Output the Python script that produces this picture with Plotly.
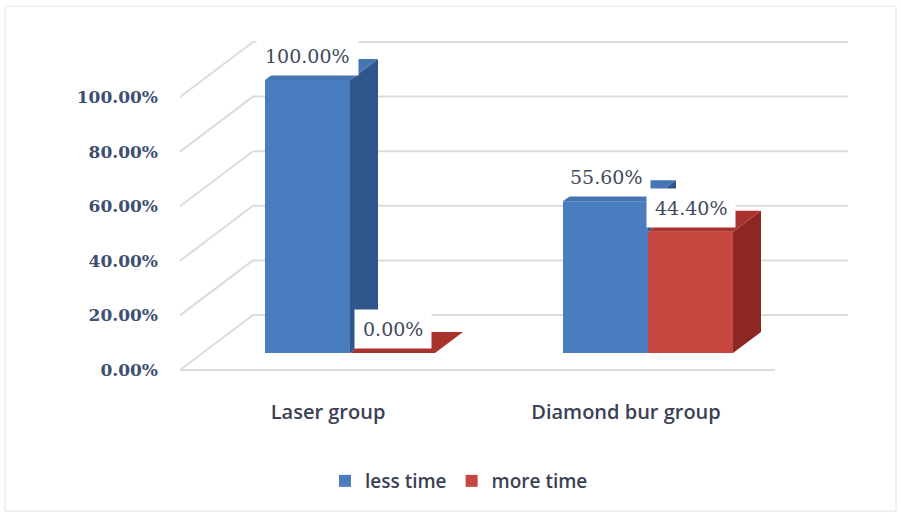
import plotly.graph_objects as go

# ---------------- data ----------------
categories = ["Laser group", "Diamond bur group"]
series_names = ["less time", "more time"]
less_time = [100.00, 55.60]
more_time = [0.00, 44.40]
y_ticks = [0, 20, 40, 60, 80, 100]

# ---------------- styling / geometry constants ----------------
W, H = 901, 515
M_LEFT = 162
PX_PER_X = 298.0          # pixels per category step
PX_PER_Y = 2.73           # pixels per percent
CAT0_PX = 350.0           # pixel x of first category centre (bar plane)
ZERO_PX = 353.0           # pixel y of value 0 (bar plane)

BW = 85 / PX_PER_X        # bar width in x units
DX = 28 / PX_PER_X        # bar depth (x)
DY = 21 / PX_PER_Y        # bar depth (y)
FRONT_DX, FRONT_DY = -22 / PX_PER_X, -17 / PX_PER_Y   # front plane offset
BACK_DX, BACK_DY = 51 / PX_PER_X, 38 / PX_PER_Y       # back wall offset
WALL_LEFT = (202 - CAT0_PX) / PX_PER_X
WALL_RIGHT = (797 - CAT0_PX) / PX_PER_X

x_range = [(M_LEFT - CAT0_PX) / PX_PER_X, (W - CAT0_PX) / PX_PER_X]
y_range = [(ZERO_PX - H) / PX_PER_Y, ZERO_PX / PX_PER_Y]

colors = {
    "less time": dict(front="#4a7dbf", top="#4675b6", side="#30568c"),
    "more time": dict(front="#c5473f", top="#a9322d", side="#8c2724"),
}
GRID = "#dcdcdc"
TICK_COLOR = "#3d4f72"
LABEL_COLOR = "#414a5e"
CAT_COLOR = "#3b4154"

cat_x = list(range(len(categories)))
series = {"less time": less_time, "more time": more_time}
offsets = {"less time": -BW, "more time": 0.0}

fig = go.Figure()

# front faces (real bars)
for name in series_names:
    fig.add_trace(go.Bar(
        x=cat_x, y=series[name], base=0, width=BW, offset=offsets[name],
        name=name, marker=dict(color=colors[name]["front"], line=dict(width=0)),
        hoverinfo="name+y",
    ))


def poly(xs, ys, color):
    fig.add_trace(go.Scatter(
        x=xs + [xs[0]], y=ys + [ys[0]], mode="lines", fill="toself",
        fillcolor=color, line=dict(width=0, color=color),
        hoverinfo="skip", showlegend=False,
    ))


# side and top faces, drawn back-to-front within each group
for i, cx in enumerate(cat_x):
    for k, name in enumerate(series_names):
        v = series[name][i]
        xl = cx + offsets[name]
        xr = xl + BW
        # neighbour to the right occludes the lower part of the side face
        floor = series[series_names[k + 1]][i] if k + 1 < len(series_names) else 0
        floor = min(floor, v)
        poly([xr, xr, xr + DX, xr + DX], [floor, v, v + DY, floor + DY],
             colors[name]["side"])
        poly([xl, xr, xr + DX, xl + DX], [v, v, v + DY, v + DY],
             colors[name]["top"])

# ---------------- wall / floor grid lines ----------------
shapes = []
for t in y_ticks:
    shapes.append(dict(type="line", layer="below", xref="x", yref="y",
                       x0=WALL_LEFT + FRONT_DX, y0=t + FRONT_DY,
                       x1=WALL_LEFT + BACK_DX, y1=t + BACK_DY,
                       line=dict(color=GRID, width=2)))
    shapes.append(dict(type="line", layer="below", xref="x", yref="y",
                       x0=WALL_LEFT + BACK_DX, y0=t + BACK_DY,
                       x1=WALL_RIGHT + BACK_DX, y1=t + BACK_DY,
                       line=dict(color=GRID, width=2)))
shapes.append(dict(type="line", layer="below", xref="x", yref="y",
                   x0=WALL_LEFT + FRONT_DX, y0=y_ticks[0] + FRONT_DY,
                   x1=WALL_RIGHT + FRONT_DX, y1=y_ticks[0] + FRONT_DY,
                   line=dict(color=GRID, width=2)))
plot_w = W - M_LEFT
shapes.append(dict(type="rect", layer="below", xref="paper", yref="paper",
                   x0=(5 - M_LEFT) / plot_w, x1=(896 - M_LEFT) / plot_w,
                   y0=1 - 511 / H, y1=1 - 6 / H,
                   line=dict(color="#e2e2e2", width=1)))

# ---------------- data labels ----------------
annotations = []
for i, cx in enumerate(cat_x):
    for name in series_names:
        v = series[name][i]
        annotations.append(dict(
            x=cx + offsets[name] + BW / 2, y=v, xref="x", yref="y",
            text=f"{v:.2f}%", showarrow=False, yanchor="middle", yshift=24,
            bgcolor="white", borderpad=8,
            font=dict(family="DejaVu Serif", size=19, color=LABEL_COLOR),
        ))

fig.update_layout(
    width=W, height=H,
    margin=dict(l=M_LEFT, r=0, t=0, b=0, autoexpand=False),
    paper_bgcolor="white", plot_bgcolor="white",
    barmode="overlay",
    shapes=shapes, annotations=annotations,
    showlegend=True,
    legend=dict(orientation="h", xref="paper", yref="paper",
                x=(325 - M_LEFT) / plot_w, xanchor="left", y=(H - 481) / H, yanchor="middle",
                bgcolor="rgba(0,0,0,0)",
                font=dict(family="Open Sans", size=19, color=CAT_COLOR, weight=600),
                traceorder="normal", itemclick=False, itemdoubleclick=False),
    xaxis=dict(range=x_range, showgrid=False, zeroline=False, showline=False,
               tickvals=[c + FRONT_DX for c in cat_x], ticktext=categories,
               ticks="", anchor="free", position=(H - 398) / H,
               tickfont=dict(family="Open Sans", size=20, color=CAT_COLOR, weight=600),
               fixedrange=True),
    yaxis=dict(range=y_range, showgrid=False, zeroline=False, showline=False,
               tickvals=[t + FRONT_DY for t in y_ticks],
               ticktext=[f"{t:.2f}%" for t in y_ticks],
               ticks="", ticklabelstandoff=3,
               tickfont=dict(family="DejaVu Serif", size=17, color=TICK_COLOR, weight="bold"),
               fixedrange=True),
)

fig.write_html("out.html")
